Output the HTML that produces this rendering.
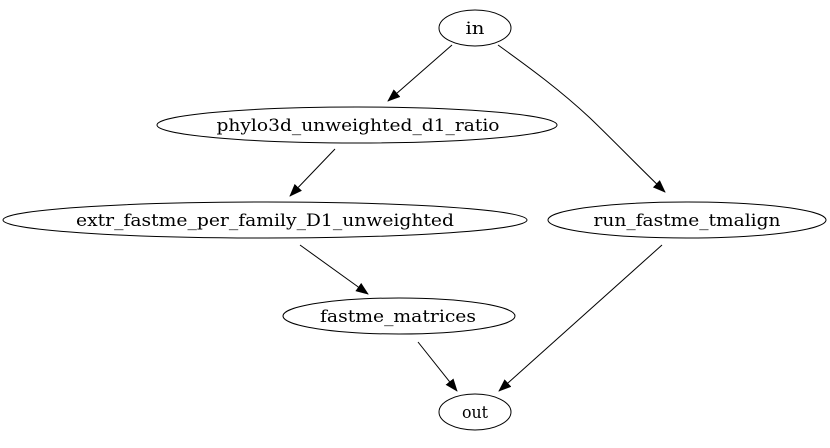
<!DOCTYPE html>
<html><head><style>html,body{margin:0;padding:0;background:#fff}</style></head>
<body>
<svg width="830" height="443" viewBox="0 0 830 443" xmlns="http://www.w3.org/2000/svg">
<defs><marker id="a" markerWidth="13" markerHeight="10" refX="12" refY="5" orient="auto" markerUnits="userSpaceOnUse"><path d="M0,0 L13,5 L0,10 Z" fill="#000"/></marker></defs>
<g fill="none" stroke="#000" stroke-width="1">
<ellipse cx="475" cy="28" rx="36" ry="18"/>
<ellipse cx="357" cy="125" rx="200" ry="18"/>
<ellipse cx="265" cy="220" rx="262" ry="18"/>
<ellipse cx="687" cy="220" rx="139" ry="18"/>
<ellipse cx="399" cy="316" rx="116" ry="18"/>
<ellipse cx="475" cy="412" rx="36" ry="18"/>
<path d="M452,45 L388,101" marker-end="url(#a)"/>
<path d="M498,45 C530,68 560,90 590,118 C615,142 640,168 665,192" marker-end="url(#a)"/>
<path d="M335,149 L290,196" marker-end="url(#a)"/>
<path d="M300,245 L368,294" marker-end="url(#a)"/>
<path d="M418,342 L457,391" marker-end="url(#a)"/>
<path d="M662,245 L499,391" marker-end="url(#a)"/>
</g>
<g font-family="DejaVu Serif, serif" font-size="17" text-anchor="middle" fill="#000">
<text x="475" y="34" textLength="19" lengthAdjust="spacingAndGlyphs">in</text>
<text x="358" y="131" textLength="283" lengthAdjust="spacingAndGlyphs">phylo3d_unweighted_d1_ratio</text>
<text x="265" y="226" textLength="378" lengthAdjust="spacingAndGlyphs">extr_fastme_per_family_D1_unweighted</text>
<text x="687" y="226" textLength="187" lengthAdjust="spacingAndGlyphs">run_fastme_tmalign</text>
<text x="398" y="322" textLength="156" lengthAdjust="spacingAndGlyphs">fastme_matrices</text>
<text x="475" y="418" textLength="26" lengthAdjust="spacingAndGlyphs">out</text>
</g>
</svg>
</body></html>
